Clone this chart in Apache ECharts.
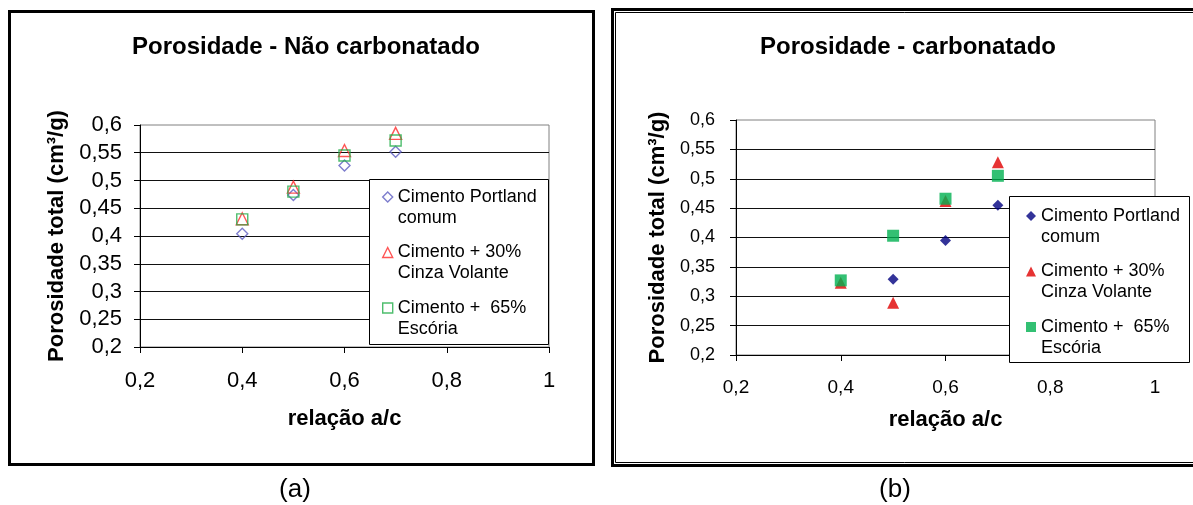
<!DOCTYPE html>
<html>
<head>
<meta charset="utf-8">
<script src="https://cdn.jsdelivr.net/npm/echarts@6/dist/echarts.min.js"></script>
<style>
  html, body { margin: 0; padding: 0; background: #fff; }
  #chart { width: 1193px; height: 505px; }
</style>
</head>
<body>
<div id="chart"></div>
<script>
const FONT = '"Liberation Sans", Arial, Helvetica, sans-serif';

// Series names (legend entries, two lines each)
const serieNames = ['Cimento Portland\ncomum', 'Cimento + 30%\nCinza Volante', 'Cimento +  65%\nEscória'];

// Axis ranges and tick steps
const xRange = [0.2, 1];
const xStep = 0.2;
const yRange = [0.2, 0.6];
const yStep = 0.05;

// (a) Porosidade - Não carbonatado
const ncRelacao = [0.4, 0.5, 0.6, 0.7];
const ncPortland = [0.404, 0.474, 0.527, 0.552];
const ncCinza = [0.431, 0.488, 0.554, 0.585];
const ncEscoria = [0.430, 0.480, 0.545, 0.572];

// (b) Porosidade - carbonatado
const cPortlandRelacao = [0.5, 0.6, 0.7];
const cPortland = [0.329, 0.395, 0.455];
const cRelacao = [0.4, 0.5, 0.6, 0.7];
const cCinza = [0.323, 0.289, 0.462, 0.528];
const cEscoria = [0.327, 0.403, 0.466, 0.505];

const pairs = (xs, ys) => xs.map((x, i) => [x, ys[i]]);
const fmt = v => String(Number(v.toFixed(2))).replace('.', ',');

const ncColors = ['#5c5cc0', '#ff2a2a', '#22ad48'];
const cColors = ['#000080', '#e00000', '#00b050'];
const symbols = ['diamond', 'triangle', 'rect'];

function xAxisFor(gridIndex, fontSize, margin, nameGap) {
  return {
    type: 'value', gridIndex,
    min: xRange[0], max: xRange[1], interval: xStep,
    name: 'relação a/c', nameLocation: 'middle', nameGap,
    nameTextStyle: { fontFamily: FONT, fontSize: 22, fontWeight: 'bold', color: '#000' },
    axisLine: { show: true, onZero: false, lineStyle: { color: '#000', width: 1 } },
    axisTick: { show: true, inside: false, length: 6, lineStyle: { color: '#000', width: 1 } },
    axisLabel: { fontFamily: FONT, fontSize, color: '#000', margin, formatter: fmt },
    splitLine: { show: false }
  };
}

function yAxisFor(gridIndex, fontSize, margin, nameGap) {
  return {
    type: 'value', gridIndex,
    min: yRange[0], max: yRange[1], interval: yStep,
    name: 'Porosidade total (cm³/g)', nameLocation: 'middle', nameGap,
    nameTextStyle: { fontFamily: FONT, fontSize: 22, fontWeight: 'bold', color: '#000' },
    axisLine: { show: true, onZero: false, lineStyle: { color: '#000', width: 1 } },
    axisTick: { show: true, inside: false, length: 6, lineStyle: { color: '#000', width: 1 } },
    axisLabel: { fontFamily: FONT, fontSize, color: '#000', margin, formatter: fmt },
    splitLine: { show: true, showMaxLine: false, lineStyle: { color: '#111', width: 1 } }
  };
}

function hollowSeries(i, xs, ys) {
  return {
    type: 'scatter', name: serieNames[i], xAxisIndex: 0, yAxisIndex: 0,
    data: pairs(xs, ys), symbol: symbols[i], symbolSize: i === 1 ? 12 : 11,
    itemStyle: { color: 'rgba(255,255,255,0)', borderColor: ncColors[i], borderWidth: 1.4 },
    emphasis: { disabled: true }
  };
}

function filledSeries(i, xs, ys) {
  return {
    type: 'scatter', name: serieNames[i], xAxisIndex: 1, yAxisIndex: 1,
    data: pairs(xs, ys), symbol: symbols[i], symbolSize: i === 0 ? 11 : 12,
    itemStyle: { color: cColors[i], borderWidth: 0 },
    emphasis: { disabled: true }
  };
}

function legendFor(left, top, filled) {
  return {
    orient: 'vertical', left, top, padding: 0,
    itemWidth: 10, itemHeight: 10, itemGap: -7.5,
    selectedMode: false,
    formatter: n => '\n' + n,
    textStyle: { fontFamily: FONT, fontSize: 18, lineHeight: 21, color: '#000' },
    data: serieNames.map((name, i) => ({
      name,
      icon: symbols[i],
      itemStyle: filled
        ? { color: cColors[i], borderWidth: 0 }
        : { color: 'rgba(255,255,255,0)', borderColor: ncColors[i], borderWidth: 1.4 }
    }))
  };
}

const chart = echarts.init(document.getElementById('chart'), null, { renderer: 'canvas' });

chart.setOption({
  animation: false,
  backgroundColor: '#fff',
  grid: [
    { left: 140, top: 125, width: 409, height: 222, show: true, borderColor: '#808080', borderWidth: 1, backgroundColor: '#fff' },
    { left: 736, top: 120, width: 419, height: 235, show: true, borderColor: '#808080', borderWidth: 1, backgroundColor: '#fff' }
  ],
  xAxis: [xAxisFor(0, 22, 23, 61), xAxisFor(1, 19, 23, 54)],
  yAxis: [yAxisFor(0, 22, 18, 72), yAxisFor(1, 18, 21, 67)],
  legend: [legendFor(382, 165.5, false), legendFor(1026, 184.5, true)],
  series: [
    hollowSeries(0, ncRelacao, ncPortland),
    hollowSeries(1, ncRelacao, ncCinza),
    hollowSeries(2, ncRelacao, ncEscoria),
    filledSeries(0, cPortlandRelacao, cPortland),
    filledSeries(1, cRelacao, cCinza),
    filledSeries(2, cRelacao, cEscoria)
  ],
  graphic: [
    // outer frame of panel (a)
    { type: 'rect', silent: true, z: 1, shape: { x: 9.5, y: 11.5, width: 584, height: 453 },
      style: { fill: null, stroke: '#000', lineWidth: 3 } },
    // double frame of panel (b)
    { type: 'rect', silent: true, z: 1, shape: { x: 612.5, y: 9.5, width: 700, height: 456 },
      style: { fill: null, stroke: '#000', lineWidth: 3 } },
    { type: 'rect', silent: true, z: 1, shape: { x: 615.5, y: 12.5, width: 700, height: 450 },
      style: { fill: null, stroke: '#000', lineWidth: 1 } },
    // legend boxes
    { type: 'rect', silent: true, z: 3, shape: { x: 369.5, y: 179.5, width: 179, height: 165 },
      style: { fill: '#fff', stroke: '#000', lineWidth: 1 } },
    { type: 'rect', silent: true, z: 3, shape: { x: 1009.5, y: 196.5, width: 180, height: 166 },
      style: { fill: '#fff', stroke: '#000', lineWidth: 1 } },
    // chart titles
    { type: 'text', silent: true, z: 5, x: 306, y: 47,
      style: { text: 'Porosidade - Não carbonatado', align: 'center', verticalAlign: 'middle',
               font: 'bold 24px ' + FONT, fill: '#000' } },
    { type: 'text', silent: true, z: 5, x: 908, y: 47,
      style: { text: 'Porosidade - carbonatado', align: 'center', verticalAlign: 'middle',
               font: 'bold 24px ' + FONT, fill: '#000' } },
    // panel captions
    { type: 'text', silent: true, z: 5, x: 295, y: 490,
      style: { text: '(a)', align: 'center', verticalAlign: 'middle', font: '26px ' + FONT, fill: '#000' } },
    { type: 'text', silent: true, z: 5, x: 895, y: 490,
      style: { text: '(b)', align: 'center', verticalAlign: 'middle', font: '26px ' + FONT, fill: '#000' } }
  ]
});
</script>
</body>
</html>
